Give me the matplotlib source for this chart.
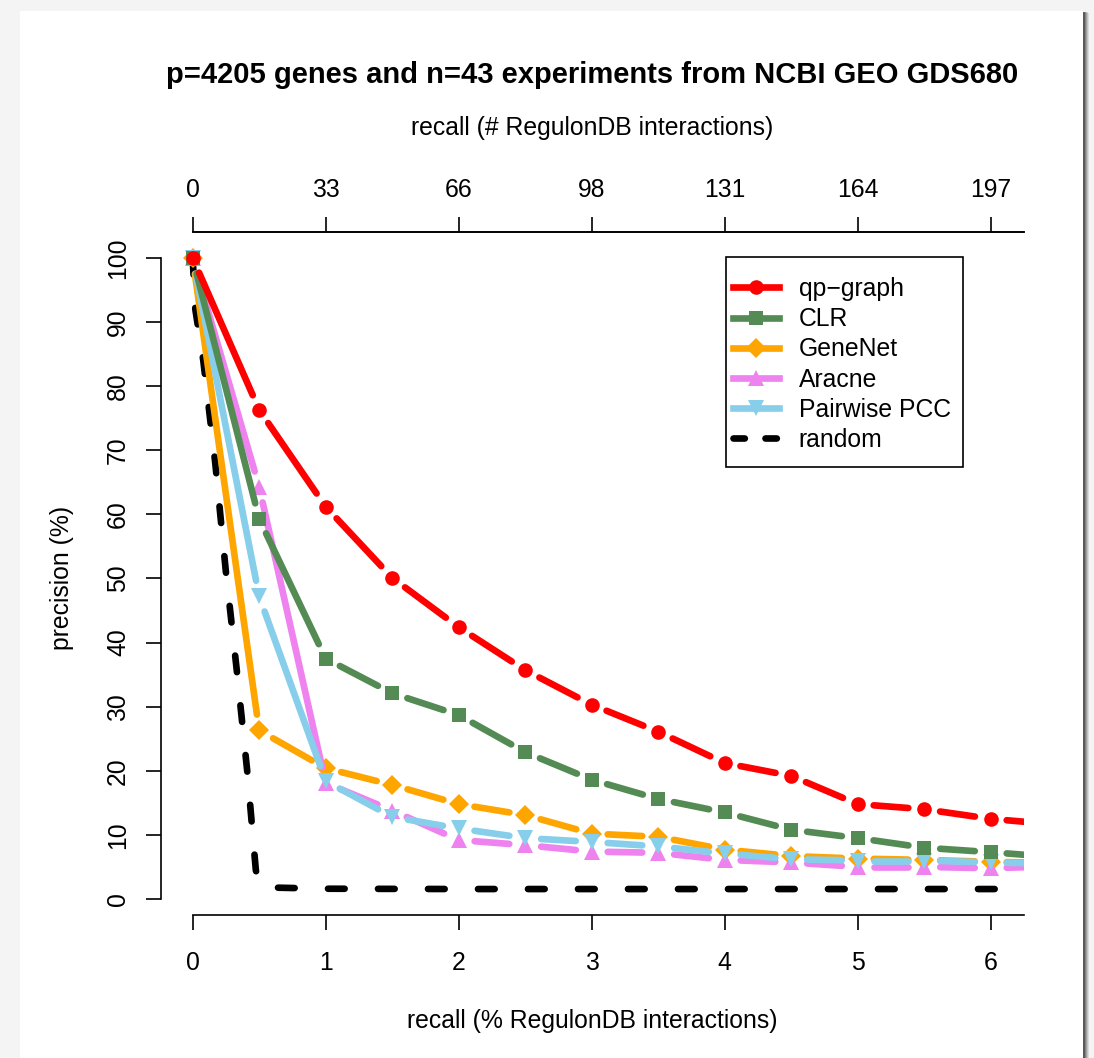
import numpy as np
import matplotlib.pyplot as plt
from matplotlib.lines import Line2D
from matplotlib.patches import Rectangle

plt.rcParams['font.family'] = ['Liberation Sans', 'DejaVu Sans']

# recall (% RegulonDB interactions) and precision (%) per method
recall = [0, 0.5, 1, 1.5, 2, 2.5, 3, 3.5, 4, 4.5, 5, 5.5, 6, 6.5]
qpgraph = [100, 76.3, 61.2, 50.1, 42.4, 35.7, 30.3, 26.1, 21.2, 19.2, 14.8, 14.0, 12.5, 11.6]
clr = [100, 59.3, 37.5, 32.1, 28.7, 22.9, 18.6, 15.6, 13.5, 10.8, 9.5, 8.0, 7.3, 6.5]
genenet = [100, 26.3, 20.4, 17.8, 14.8, 13.1, 10.2, 9.7, 7.7, 6.7, 6.3, 6.1, 5.8, 5.6]
aracne = [100, 64.3, 18.1, 13.8, 9.2, 8.4, 7.4, 7.2, 6.1, 5.7, 5.0, 5.0, 4.8, 5.1]
pcc = [100, 47.2, 18.4, 12.8, 11.0, 9.5, 8.9, 8.2, 7.1, 6.2, 6.0, 6.0, 5.7, 5.5]

random_x = [0, 0.02, 0.08, 0.17, 0.25, 0.33, 0.41, 0.475, 0.5, 0.55, 1, 2, 3, 4, 5, 6, 6.5]
random_y = [100, 92, 84, 68, 51, 36, 20, 4.5, 2.2, 1.8, 1.6, 1.55, 1.55, 1.55, 1.55, 1.55, 1.55]

top_ticks = [0, 1, 2, 3, 4, 5, 6]
top_labels = ['0', '33', '66', '98', '131', '164', '197']

fs = 17.8
lw = 4.8

fig = plt.figure(figsize=(10.94, 10.58), dpi=100)
fig.patch.set_facecolor('#f4f4f4')
# page with a soft shadow on the right
for i, a in enumerate([0.10, 0.12, 0.15, 0.2, 0.3]):
    off = (6 - i) / 1094
    fig.patches.append(Rectangle((20 / 1094 + off, 0), 1063 / 1094, 1 - 11 / 1058 - off * 0.3,
                                 transform=fig.transFigure, facecolor='black', alpha=a,
                                 edgecolor='none', zorder=-10))
fig.patches.append(Rectangle((20 / 1094, 0), 1063 / 1094, 1 - 11 / 1058,
                             transform=fig.transFigure, facecolor='white',
                             edgecolor='none', zorder=-9))

ax = fig.add_axes([161 / 1094, 1 - 915 / 1058, (1024 - 161) / 1094, (915 - 231.7) / 1058])
ax.set_zorder(2)
ax.set_facecolor('none')
ax.set_xlim(-0.238, 6.25)
ax.set_ylim(-2.5, 104.1)


def gapped(x, y, color, marker, ms, z, gap=16):
    # R type="b": line segments stop short of each point
    pts = ax.transData.transform(np.column_stack([x, y]))
    inv = ax.transData.inverted()
    for p0, p1 in zip(pts[:-1], pts[1:]):
        d = p1 - p0
        L = np.hypot(d[0], d[1])
        if L <= 2 * gap:
            continue
        u = d / L
        a = inv.transform(p0 + u * gap)
        b = inv.transform(p1 - u * gap)
        ax.plot([a[0], b[0]], [a[1], b[1]], color=color, lw=lw,
                solid_capstyle='round', zorder=z)
    ax.plot(x, y, linestyle='none', marker=marker, ms=ms, color=color,
            markeredgewidth=0, zorder=z + 0.5)


ax.plot(random_x, random_y, color='black', lw=lw, dashes=(2.5, 5.0),
        dash_capstyle='round', zorder=2)
gapped(recall, genenet, '#FFA500', 'D', 10, 3)
gapped(recall, aracne, '#EE82EE', '^', 11, 4)
gapped(recall, pcc, '#87CEEB', 'v', 11, 5)
gapped(recall, clr, '#548B54', 's', 9.5, 6)
gapped(recall, qpgraph, '#FF0000', 'o', 10.5, 7)

ax.spines['right'].set_visible(False)
ax.spines['left'].set_bounds(0, 100)
ax.spines['bottom'].set_bounds(0, 6.25)
ax.spines['top'].set_bounds(0, 6.25)
for s in ['left', 'bottom', 'top']:
    ax.spines[s].set_linewidth(1.2)

ax.set_xticks(range(7))
ax.set_xticklabels([str(i) for i in range(7)], fontsize=fs)
ax.set_yticks(range(0, 101, 10))
ax.set_yticklabels([str(v) for v in range(0, 101, 10)], fontsize=fs, rotation=90, va='center')
ax.tick_params(axis='x', direction='out', length=10.8, width=1.2, pad=15)
ax.tick_params(axis='y', direction='out', length=10.8, width=1.2, pad=11.5)

ax2 = ax.twiny()
ax2.set_xlim(ax.get_xlim())
ax2.set_xticks(top_ticks)
ax2.set_xticklabels(top_labels, fontsize=fs)
ax2.tick_params(axis='x', direction='out', length=10.8, width=1.2, pad=10.5)
for s in ['left', 'right', 'bottom']:
    ax2.spines[s].set_visible(False)
ax2.spines['top'].set_bounds(0, 6.25)
ax2.spines['top'].set_linewidth(1.2)

fig.text(592 / 1094, 1 - 75 / 1058, 'p=4205 genes and n=43 experiments from NCBI GEO GDS680',
         ha='center', va='center', fontsize=21, fontweight='bold')
fig.text(592 / 1094, 1 - 128 / 1058, 'recall (# RegulonDB interactions)',
         ha='center', va='center', fontsize=fs)
fig.text(592 / 1094, 1 - 1021 / 1058, 'recall (% RegulonDB interactions)',
         ha='center', va='center', fontsize=fs)
fig.text(62 / 1094, 1 - 578 / 1058, 'precision (%)', rotation=90,
         ha='center', va='center', fontsize=fs)

handles = [
    Line2D([], [], color='#FF0000', lw=lw, marker='o', ms=10.5, mew=0),
    Line2D([], [], color='#548B54', lw=lw, marker='s', ms=9.5, mew=0),
    Line2D([], [], color='#FFA500', lw=lw, marker='D', ms=10, mew=0),
    Line2D([], [], color='#EE82EE', lw=lw, marker='^', ms=11, mew=0),
    Line2D([], [], color='#87CEEB', lw=lw, marker='v', ms=11, mew=0),
    Line2D([], [], color='black', lw=lw, dashes=(1.7, 3.1), dash_capstyle='round'),
]
labels = ['qp\u2212graph', 'CLR', 'GeneNet', 'Aracne', 'Pairwise PCC', 'random']
leg = fig.legend(handles, labels, loc='upper left',
                 bbox_to_anchor=(733 / 1094, 1 - 277 / 1058),
                 fontsize=fs, frameon=False,
                 handlelength=1.85, handletextpad=0.8, labelspacing=0.25,
                 borderpad=0, borderaxespad=0)
leg.set_zorder(10)
fig.patches.append(Rectangle((726 / 1094, 1 - 467 / 1058), (963 - 726) / 1094, (467 - 257) / 1058,
                             transform=fig.transFigure, facecolor='white',
                             edgecolor='black', lw=1.2, zorder=5))

fig.savefig('out.png', dpi=100, facecolor=fig.get_facecolor())
